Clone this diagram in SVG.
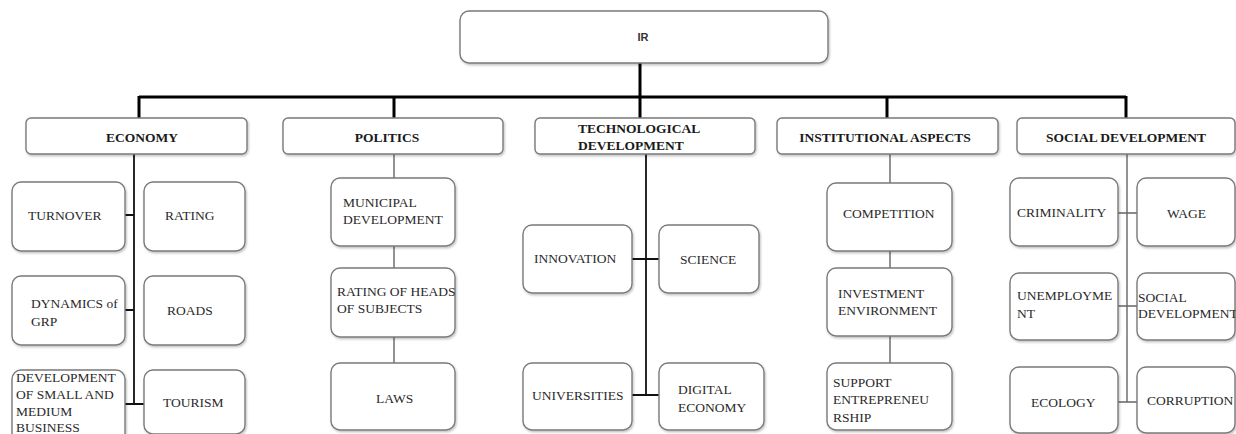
<svg xmlns="http://www.w3.org/2000/svg" width="1236" height="434" viewBox="0 0 1236 434">
<defs>
<filter id="sh" x="-10%" y="-10%" width="130%" height="130%">
<feDropShadow dx="1" dy="1.5" stdDeviation="1" flood-color="#000" flood-opacity="0.25"/>
</filter>
<style>
.box{fill:#fff;stroke:#7a7a7a;stroke-width:1.4;filter:url(#sh)}
.t{font-family:'Liberation Serif','DejaVu Serif',serif;font-size:13.5px;fill:#2a2a2a}
.h{font-family:'Liberation Serif','DejaVu Serif',serif;font-size:13.5px;font-weight:bold;fill:#1a1a1a}
.m{font-family:'Liberation Sans','DejaVu Sans',sans-serif;font-size:11px;font-weight:bold;fill:#333}
.main{stroke:#000;stroke-width:3;fill:none}
.dk{stroke:#111;stroke-width:1.8;fill:none}
.gr{stroke:#666;stroke-width:1.4;fill:none}
</style>
</defs>
<rect width="1236" height="434" fill="#fff"/>

<g id="connectors">
<path class="main" d="M640,63V97M139,97H1126M139,96V118M394,96V118M640,96V118M887,96V118M1126,96V118"/>
<path class="dk" d="M134,154V404M125,215H134M125,310H134M125,404H144"/>
<path class="gr" d="M394,154V178M394,246V268M394,337V363"/>
<path class="dk" d="M646,150V395M632,259H659M632,395H659"/>
<path class="gr" d="M890,154V183M890,251V268M890,336V363"/>
<path class="gr" d="M1127,154V402M1118,213H1137M1118,306H1137M1118,402H1137"/>
</g>

<g id="ir"><rect class="box" x="460" y="11" width="368" height="52" rx="9"/><text class="m" x="643" y="41" text-anchor="middle">IR</text></g>

<g id="economy"><rect class="box" x="26" y="118" width="221" height="36" rx="5"/><text class="h" x="142" y="142" text-anchor="middle">ECONOMY</text></g>
<g id="politics"><rect class="box" x="283" y="118" width="220" height="36" rx="5"/><text class="h" x="387" y="142" text-anchor="middle">POLITICS</text></g>
<g id="tech"><rect class="box" x="535" y="118" width="220" height="36" rx="5"/><text class="h" x="578" y="133">TECHNOLOGICAL</text><text class="h" x="578" y="150">DEVELOPMENT</text></g>
<g id="institutional"><rect class="box" x="777" y="118" width="221" height="36" rx="5"/><text class="h" x="885" y="142" text-anchor="middle">INSTITUTIONAL ASPECTS</text></g>
<g id="social"><rect class="box" x="1017" y="118" width="218" height="36" rx="5"/><text class="h" x="1126" y="142" text-anchor="middle">SOCIAL DEVELOPMENT</text></g>

<g id="turnover"><rect class="box" x="12" y="182" width="113" height="69" rx="9"/><text class="t" x="28" y="220">TURNOVER</text></g>
<g id="rating"><rect class="box" x="144" y="182" width="101" height="69" rx="9"/><text class="t" x="165" y="220">RATING</text></g>
<g id="dynamics"><rect class="box" x="12" y="276" width="113" height="69" rx="9"/><text class="t" x="31" y="308">DYNAMICS of</text><text class="t" x="31" y="326">GRP</text></g>
<g id="roads"><rect class="box" x="144" y="276" width="101" height="69" rx="9"/><text class="t" x="167" y="315">ROADS</text></g>
<g id="smb"><rect class="box" x="12" y="370" width="113" height="72" rx="9"/><text class="t" x="16" y="382">DEVELOPMENT</text><text class="t" x="16" y="399">OF SMALL AND</text><text class="t" x="16" y="416">MEDIUM</text><text class="t" x="16" y="432">BUSINESS</text></g>
<g id="tourism"><rect class="box" x="144" y="370" width="101" height="64" rx="9"/><text class="t" x="163" y="407">TOURISM</text></g>

<g id="municipal"><rect class="box" x="331" y="178" width="124" height="68" rx="9"/><text class="t" x="343" y="207">MUNICIPAL</text><text class="t" x="343" y="224">DEVELOPMENT</text></g>
<g id="heads"><rect class="box" x="331" y="268" width="124" height="69" rx="9"/><text class="t" x="337" y="296">RATING OF HEADS</text><text class="t" x="337" y="313">OF SUBJECTS</text></g>
<g id="laws"><rect class="box" x="331" y="363" width="124" height="67" rx="9"/><text class="t" x="376" y="403">LAWS</text></g>

<g id="innovation"><rect class="box" x="523" y="225" width="109" height="68" rx="9"/><text class="t" x="534" y="263">INNOVATION</text></g>
<g id="science"><rect class="box" x="659" y="225" width="100" height="68" rx="9"/><text class="t" x="680" y="264">SCIENCE</text></g>
<g id="universities"><rect class="box" x="523" y="363" width="109" height="67" rx="9"/><text class="t" x="532" y="400">UNIVERSITIES</text></g>
<g id="digital"><rect class="box" x="659" y="363" width="105" height="67" rx="9"/><text class="t" x="678" y="394">DIGITAL</text><text class="t" x="678" y="412">ECONOMY</text></g>

<g id="competition"><rect class="box" x="827" y="183" width="125" height="68" rx="9"/><text class="t" x="843" y="218">COMPETITION</text></g>
<g id="investment"><rect class="box" x="827" y="268" width="125" height="68" rx="9"/><text class="t" x="838" y="298">INVESTMENT</text><text class="t" x="838" y="315">ENVIRONMENT</text></g>
<g id="support"><rect class="box" x="827" y="363" width="125" height="67" rx="9"/><text class="t" x="833" y="387">SUPPORT</text><text class="t" x="833" y="404">ENTREPRENEU</text><text class="t" x="833" y="422">RSHIP</text></g>

<g id="criminality"><rect class="box" x="1010" y="178" width="108" height="68" rx="9"/><text class="t" x="1017" y="217">CRIMINALITY</text></g>
<g id="wage"><rect class="box" x="1137" y="178" width="98" height="68" rx="9"/><text class="t" x="1167" y="218">WAGE</text></g>
<g id="unemployment"><rect class="box" x="1010" y="273" width="108" height="67" rx="9"/><text class="t" x="1017" y="300">UNEMPLOYME</text><text class="t" x="1017" y="318">NT</text></g>
<g id="socialdev"><rect class="box" x="1137" y="273" width="98" height="67" rx="9"/><text class="t" x="1138" y="302">SOCIAL</text><text class="t" x="1138" y="318">DEVELOPMENT</text></g>
<g id="ecology"><rect class="box" x="1010" y="367" width="108" height="66" rx="9"/><text class="t" x="1031" y="407">ECOLOGY</text></g>
<g id="corruption"><rect class="box" x="1137" y="367" width="98" height="66" rx="9"/><text class="t" x="1147" y="405">CORRUPTION</text></g>
</svg>
